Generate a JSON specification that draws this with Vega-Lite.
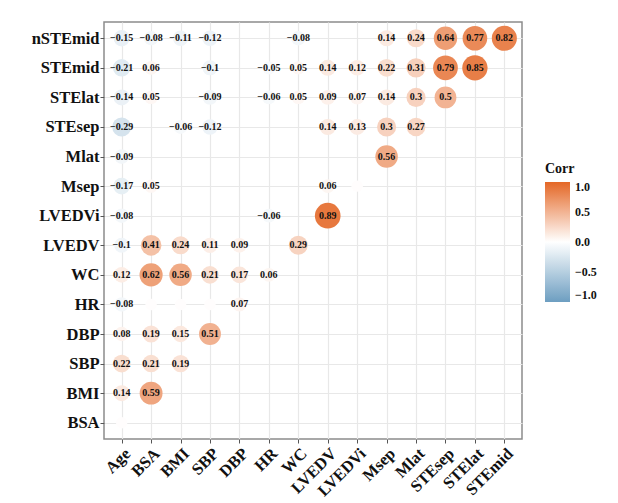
{
  "$schema": "https://vega.github.io/schema/vega-lite/v6.json",
  "width": 418,
  "height": 417,
  "autosize": {"type": "none"},
  "padding": {"left": 104, "top": 22, "right": 96, "bottom": 64},
  "background": "white",
  "config": {
    "view": {"stroke": "#8c8c8c", "strokeWidth": 1.5},
    "font": "Liberation Serif",
    "axis": {
      "labelFont": "Liberation Serif",
      "labelFontWeight": "bold",
      "labelFontSize": 16.5,
      "labelColor": "#111111",
      "domain": false,
      "tickColor": "#555555",
      "tickSize": 4,
      "tickWidth": 1,
      "gridColor": "#e8e8e8",
      "gridWidth": 1.2,
      "title": null
    }
  },
  "data": {
    "values": [
      {"row": "nSTEmid", "col": "Age", "r": -0.15},
      {"row": "nSTEmid", "col": "BSA", "r": -0.08},
      {"row": "nSTEmid", "col": "BMI", "r": -0.11},
      {"row": "nSTEmid", "col": "SBP", "r": -0.12},
      {"row": "nSTEmid", "col": "WC", "r": -0.08},
      {"row": "nSTEmid", "col": "Msep", "r": 0.14},
      {"row": "nSTEmid", "col": "Mlat", "r": 0.24},
      {"row": "nSTEmid", "col": "STEsep", "r": 0.64},
      {"row": "nSTEmid", "col": "STElat", "r": 0.77},
      {"row": "nSTEmid", "col": "STEmid", "r": 0.82},
      {"row": "STEmid", "col": "Age", "r": -0.21},
      {"row": "STEmid", "col": "BSA", "r": 0.06},
      {"row": "STEmid", "col": "SBP", "r": -0.1},
      {"row": "STEmid", "col": "HR", "r": -0.05},
      {"row": "STEmid", "col": "WC", "r": 0.05},
      {"row": "STEmid", "col": "LVEDV", "r": 0.14},
      {"row": "STEmid", "col": "LVEDVi", "r": 0.12},
      {"row": "STEmid", "col": "Msep", "r": 0.22},
      {"row": "STEmid", "col": "Mlat", "r": 0.31},
      {"row": "STEmid", "col": "STEsep", "r": 0.79},
      {"row": "STEmid", "col": "STElat", "r": 0.85},
      {"row": "STElat", "col": "Age", "r": -0.14},
      {"row": "STElat", "col": "BSA", "r": 0.05},
      {"row": "STElat", "col": "SBP", "r": -0.09},
      {"row": "STElat", "col": "HR", "r": -0.06},
      {"row": "STElat", "col": "WC", "r": 0.05},
      {"row": "STElat", "col": "LVEDV", "r": 0.09},
      {"row": "STElat", "col": "LVEDVi", "r": 0.07},
      {"row": "STElat", "col": "Msep", "r": 0.14},
      {"row": "STElat", "col": "Mlat", "r": 0.3},
      {"row": "STElat", "col": "STEsep", "r": 0.5},
      {"row": "STEsep", "col": "Age", "r": -0.29},
      {"row": "STEsep", "col": "BMI", "r": -0.06},
      {"row": "STEsep", "col": "SBP", "r": -0.12},
      {"row": "STEsep", "col": "LVEDV", "r": 0.14},
      {"row": "STEsep", "col": "LVEDVi", "r": 0.13},
      {"row": "STEsep", "col": "Msep", "r": 0.3},
      {"row": "STEsep", "col": "Mlat", "r": 0.27},
      {"row": "Mlat", "col": "Age", "r": -0.09},
      {"row": "Mlat", "col": "Msep", "r": 0.56},
      {"row": "Msep", "col": "Age", "r": -0.17},
      {"row": "Msep", "col": "BSA", "r": 0.05},
      {"row": "Msep", "col": "LVEDV", "r": 0.06},
      {"row": "Msep", "col": "LVEDVi", "r": 0.01},
      {"row": "LVEDVi", "col": "Age", "r": -0.08},
      {"row": "LVEDVi", "col": "HR", "r": -0.06},
      {"row": "LVEDVi", "col": "LVEDV", "r": 0.89},
      {"row": "LVEDV", "col": "Age", "r": -0.1},
      {"row": "LVEDV", "col": "BSA", "r": 0.41},
      {"row": "LVEDV", "col": "BMI", "r": 0.24},
      {"row": "LVEDV", "col": "SBP", "r": 0.11},
      {"row": "LVEDV", "col": "DBP", "r": 0.09},
      {"row": "LVEDV", "col": "WC", "r": 0.29},
      {"row": "WC", "col": "Age", "r": 0.12},
      {"row": "WC", "col": "BSA", "r": 0.62},
      {"row": "WC", "col": "BMI", "r": 0.56},
      {"row": "WC", "col": "SBP", "r": 0.21},
      {"row": "WC", "col": "DBP", "r": 0.17},
      {"row": "WC", "col": "HR", "r": 0.06},
      {"row": "HR", "col": "Age", "r": -0.08},
      {"row": "HR", "col": "BSA", "r": 0.01},
      {"row": "HR", "col": "BMI", "r": 0.01},
      {"row": "HR", "col": "SBP", "r": 0.01},
      {"row": "HR", "col": "DBP", "r": 0.07},
      {"row": "DBP", "col": "Age", "r": 0.08},
      {"row": "DBP", "col": "BSA", "r": 0.19},
      {"row": "DBP", "col": "BMI", "r": 0.15},
      {"row": "DBP", "col": "SBP", "r": 0.51},
      {"row": "SBP", "col": "Age", "r": 0.22},
      {"row": "SBP", "col": "BSA", "r": 0.21},
      {"row": "SBP", "col": "BMI", "r": 0.19},
      {"row": "BMI", "col": "Age", "r": 0.14},
      {"row": "BMI", "col": "BSA", "r": 0.59},
      {"row": "BSA", "col": "Age", "r": 0.01}
    ]
  },
  "transform": [{"calculate": "abs(datum.r)", "as": "absr"}],
  "encoding": {
    "x": {
      "field": "col",
      "type": "nominal",
      "scale": {
        "type": "point",
        "padding": 0.6,
        "domain": ["Age", "BSA", "BMI", "SBP", "DBP", "HR", "WC", "LVEDV", "LVEDVi", "Msep", "Mlat", "STEsep", "STElat", "STEmid"]
      },
      "axis": {"labelAngle": -45, "labelAlign": "right", "labelBaseline": "top", "labelPadding": 2, "grid": true}
    },
    "y": {
      "field": "row",
      "type": "nominal",
      "scale": {
        "type": "point",
        "padding": 0.55,
        "domain": ["nSTEmid", "STEmid", "STElat", "STEsep", "Mlat", "Msep", "LVEDVi", "LVEDV", "WC", "HR", "DBP", "SBP", "BMI", "BSA"]
      },
      "axis": {"labelPadding": 1, "grid": true}
    }
  },
  "layer": [
    {
      "mark": {"type": "circle", "opacity": 1, "strokeWidth": 0},
      "encoding": {
        "size": {
          "field": "absr",
          "type": "quantitative",
          "scale": {"type": "pow", "exponent": 0.7, "domain": [0, 0.89], "range": [106, 660]},
          "legend": null
        },
        "color": {
          "field": "r",
          "type": "quantitative",
          "scale": {"domain": [-1, 0, 1], "range": ["#6D9EC1", "#ffffff", "#E46726"], "interpolate": "rgb"},
          "legend": {
            "title": "Corr",
            "orient": "none",
            "legendX": 441,
            "legendY": 140,
            "gradientLength": 120,
            "gradientThickness": 25,
            "gradientStrokeWidth": 0,
            "values": [-1, -0.5, 0, 0.5, 1],
            "format": ".1f",
            "titleFont": "Liberation Serif",
            "titleFontSize": 14,
            "titleFontWeight": "bold",
            "titleColor": "#111111",
            "titlePadding": 6,
            "labelFont": "Liberation Serif",
            "labelFontSize": 12,
            "labelFontWeight": "bold",
            "labelColor": "#111111",
            "labelOffset": 5
          }
        }
      }
    },
    {
      "transform": [{"filter": "datum.absr >= 0.045"}],
      "mark": {"type": "text", "font": "Liberation Serif", "fontWeight": "bold", "fontSize": 10, "color": "#111111"},
      "encoding": {
        "text": {"field": "r", "type": "quantitative", "format": ".2~f"}
      }
    }
  ]
}
